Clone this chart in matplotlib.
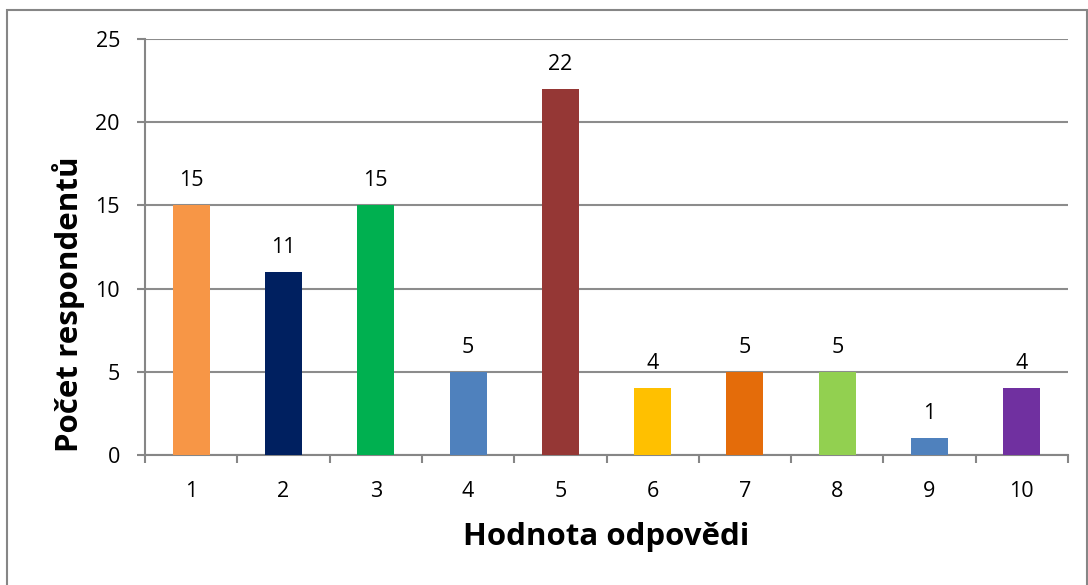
import matplotlib.pyplot as plt
from matplotlib.patches import Rectangle
import numpy as np

categories = ["1", "2", "3", "4", "5", "6", "7", "8", "9", "10"]
counts = [15, 11, 15, 5, 22, 4, 5, 5, 1, 4]
colors = ["#F79646", "#002060", "#00B050", "#4F81BD", "#953735",
          "#FFC000", "#E46C0A", "#92D050", "#4F81BD", "#7030A0"]

plt.rcParams["font.family"] = ["Open Sans", "DejaVu Sans"]

fig = plt.figure(figsize=(10.88, 5.85), dpi=100)
ax = fig.add_axes([145 / 1088, 1 - 455 / 585, (1068 - 145) / 1088, (455 - 39) / 585])

x = np.arange(len(categories))
ax.bar(x, counts, width=0.4, color=colors, zorder=3)
for xi, v in zip(x, counts):
    ax.text(xi, v + 1.15, str(v), ha="center", va="baseline", fontsize=15.5)

ax.set_xlim(-0.5, len(categories) - 0.5)
ax.set_ylim(0, 25)
ax.set_yticks(range(0, 26, 5))
ax.set_xticks(x)
ax.set_xticklabels(categories)
ax.set_xticks(np.arange(-0.5, len(categories), 1), minor=True)
ax.tick_params(axis="x", which="major", length=0, pad=19, labelsize=15.5)
ax.tick_params(axis="x", which="minor", length=6, color="#868686", width=1.5)
ax.tick_params(axis="y", length=6, color="#868686", width=1.5, pad=12, labelsize=15.5)

ax.grid(axis="y", color="#8C8C8C", linewidth=1.5, zorder=0)
for s in ["top", "right"]:
    ax.spines[s].set_visible(False)
for s in ["left", "bottom"]:
    ax.spines[s].set_color("#868686")
    ax.spines[s].set_linewidth(1.5)

ax.set_xlabel("Hodnota odpovědi", fontsize=22.5, fontweight="bold", va="center")
ax.set_ylabel("Počet respondentů", fontsize=22.5, fontweight="bold", va="center")
ax.xaxis.set_label_coords(0.5, -0.197)
ax.yaxis.set_label_coords(-0.083, 0.363)

fig.patches.append(Rectangle((7 / 1088, -0.05), (1087 - 7) / 1088, 1.05 - 10 / 585,
                             transform=fig.transFigure, fill=False,
                             edgecolor="#868686", linewidth=1.5))

fig.savefig("out.png", dpi=100)
